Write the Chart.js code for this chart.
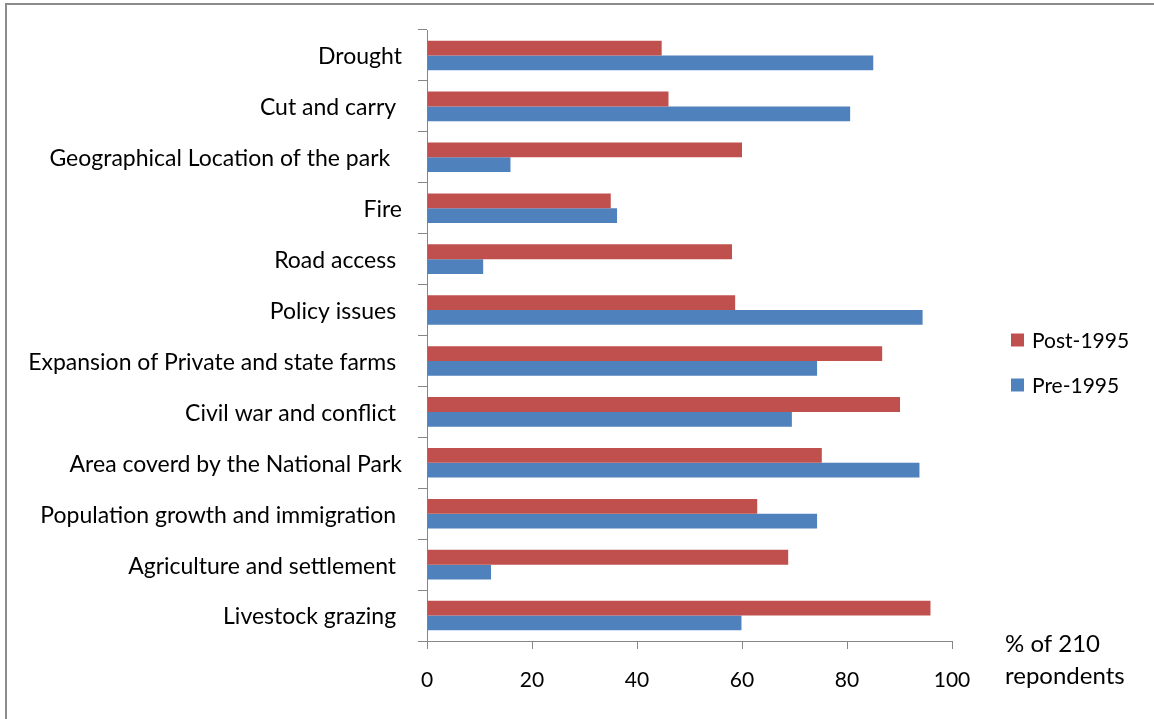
<!DOCTYPE html>
<html>
<head>
<meta charset="utf-8">
<title>Causes of change, pre and post 1995</title>
<script src="https://cdn.jsdelivr.net/npm/chart.js@4.4.1/dist/chart.umd.min.js"></script>
<style>
  html, body { margin: 0; padding: 0; background: #fff; }
  #wrap { position: relative; width: 1154px; height: 719px; overflow: hidden; }
  #frame { position: absolute; left: 5px; top: 3px; width: 1200px; height: 760px;
           border-left: 2px solid #8c8c8c; border-top: 2px solid #8c8c8c; }
  canvas { position: absolute; left: 0; top: 0; }
</style>
</head>
<body>
<div id="wrap">
  <div id="frame"></div>
  <canvas id="chartCausas" width="1154" height="719"></canvas>
</div>
<script>
// categories, top to bottom (trailing spaces kept as typed in the sheet)
const causas = [
  'Drought',
  'Cut and carry ',
  'Geographical Location of the park  ',
  'Fire',
  'Road access ',
  'Policy issues ',
  'Expansion of Private and state farms ',
  'Civil war and conflict ',
  'Area coverd by the National Park',
  'Population growth and immigration ',
  'Agriculture and settlement ',
  'Livestock grazing '
];

// % of 210 respondents
const post1995 = [44.7, 46.0, 60.0, 35.0, 58.1, 58.7, 86.7, 90.1, 75.2, 62.9, 68.8, 95.9];
const pre1995  = [85.0, 80.6, 15.9, 36.2, 10.7, 94.4, 74.3, 69.5, 93.8, 74.3, 12.2, 59.9];

const ejeX = [0, 20, 40, 60, 80, 100];
const tituloEje = ['% of 210', 'repondents'];

const fuente = 'Lato';
const gris = '#868686';

// leyenda a la derecha, dibujada a mano
const leyendaLateral = {
  id: 'leyendaLateral',
  afterDraw(chart) {
    const ctx = chart.ctx;
    const area = chart.chartArea;
    ctx.save();
    ctx.font = '21px ' + fuente;
    ctx.textBaseline = 'middle';
    ctx.textAlign = 'left';
    chart.data.datasets.forEach((ds, i) => {
      const y = area.top + 310 + i * 45;
      ctx.fillStyle = ds.backgroundColor;
      ctx.fillRect(area.right + 59, y - 6.5, 13, 13);
      ctx.fillStyle = '#000';
      ctx.fillText(ds.label, area.right + 80, y + 1);
    });
    // titulo del eje x, a la derecha del eje
    ctx.font = '24px ' + fuente;
    ctx.textBaseline = 'alphabetic';
    ctx.fillText(tituloEje[0], area.right + 53, area.bottom + 11);
    ctx.fillText(tituloEje[1], area.right + 53, area.bottom + 43);
    ctx.restore();
  }
};

const ctxCausas = document.getElementById('chartCausas');

new Chart(ctxCausas, {
  type: 'bar',
  data: {
    labels: causas,
    datasets: [
      { label: 'Post-1995', data: post1995, backgroundColor: '#C0504D', borderWidth: 0 },
      { label: 'Pre-1995',  data: pre1995,  backgroundColor: '#4F81BD', borderWidth: 0 }
    ]
  },
  options: {
    indexAxis: 'y',
    responsive: false,
    animation: false,
    datasets: {
      bar: { categoryPercentage: 0.58, barPercentage: 1.0 }
    },
    layout: {
      padding: { top: 30, right: 202, left: 0, bottom: 0 }
    },
    scales: {
      x: {
        min: 0,
        max: 100,
        afterBuildTicks: (scale) => { scale.ticks = ejeX.map(v => ({ value: v })); },
        afterFit: (scale) => { scale.height = 78; },
        border: { color: gris, width: 1 },
        grid: { drawOnChartArea: false, drawTicks: true, tickLength: 8, color: gris },
        ticks: { padding: 19, color: '#000', font: { family: fuente, size: 21 } }
      },
      y: {
        afterFit: (scale) => { scale.width = 427; },
        border: { color: gris, width: 1 },
        grid: { drawOnChartArea: false, drawTicks: true, tickLength: 9, color: gris, offset: true },
        ticks: { padding: 16, labelOffset: 1.5, color: '#000', autoSkip: false, font: { family: fuente, size: 23 } }
      }
    },
    plugins: {
      legend: { display: false },
      tooltip: { enabled: false }
    }
  },
  plugins: [leyendaLateral]
});
</script>
</body>
</html>
